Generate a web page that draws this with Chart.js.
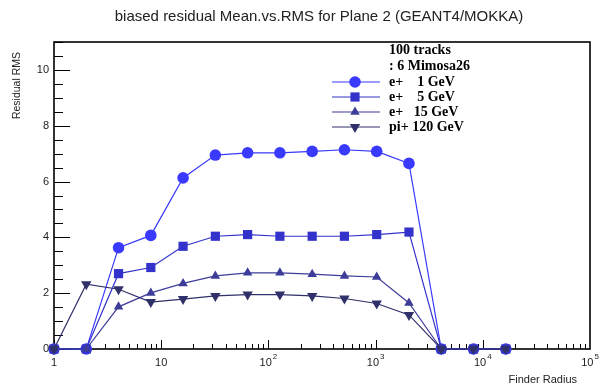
<!DOCTYPE html>
<html>
<head>
<meta charset="utf-8">
<script src="https://cdn.jsdelivr.net/npm/chart.js"></script>
<style>
  html, body { margin: 0; padding: 0; background: #fff; }
  #wrap { width: 599px; height: 387px; }
</style>
</head>
<body>
<div id="wrap"><canvas id="chart" width="599" height="387"></canvas></div>
<script>
// finder radius values (powers of two)
const radius = [1, 2, 4, 8, 16, 32, 64, 128, 256, 512, 1024, 2048, 4096, 8192, 16384];

// residual RMS per beam setting
const ePlus1GeV  = [0, 0, 3.63, 4.07, 6.13, 6.95, 7.03, 7.03, 7.08, 7.14, 7.08, 6.65, 0, 0, 0];
const ePlus5GeV  = [0, 0, 2.70, 2.92, 3.68, 4.04, 4.10, 4.04, 4.04, 4.04, 4.10, 4.19, 0, 0, 0];
const ePlus15GeV = [0, 0, 1.51, 2.01, 2.35, 2.62, 2.73, 2.73, 2.68, 2.62, 2.58, 1.65, 0, 0, 0];
const piPlus120GeV = [0, 2.32, 2.14, 1.68, 1.79, 1.90, 1.95, 1.95, 1.90, 1.81, 1.63, 1.22, 0, 0, 0];

const seriesNames = ['e+    1 GeV', 'e+    5 GeV', 'e+   15 GeV', 'pi+ 120 GeV'];
const legendHeader = ['100 tracks', ': 6 Mimosa26'];

const yTicks = [0, 2, 4, 6, 8, 10];
const xDecades = [1, 10, 100, 1000, 10000, 100000];
const xTickLabels = [['1', ''], ['10', ''], ['10', '2'], ['10', '3'], ['10', '4'], ['10', '5']];

const colors = ['#3a3aff', '#3333cc', '#3d3d99', '#30306a'];
const styles = [
  { pointStyle: 'circle', radius: 5.8, rotation: 0 },
  { pointStyle: 'rect', radius: 6.5, rotation: 0 },
  { pointStyle: 'triangle', radius: 5.5, rotation: 0 },
  { pointStyle: 'triangle', radius: 6, rotation: 180 }
];

function toXY(ys) {
  return radius.map((r, i) => ({ x: r, y: ys[i] }));
}

const allSeries = [ePlus1GeV, ePlus5GeV, ePlus15GeV, piPlus120GeV];
const datasets = allSeries.map((ys, i) => ({
  label: seriesNames[i],
  data: toXY(ys),
  borderColor: colors[i],
  backgroundColor: colors[i],
  borderWidth: 1.2,
  pointStyle: styles[i].pointStyle,
  pointRadius: styles[i].radius,
  pointRotation: styles[i].rotation,
  pointBorderWidth: 0,
  tension: 0,
  clip: false,
  order: 3 - i
}));

function marker(ctx, st, x, y, color) {
  ctx.save();
  ctx.fillStyle = color;
  ctx.strokeStyle = color;
  ctx.lineWidth = 0;
  if (Chart.helpers && Chart.helpers.drawPoint) {
    Chart.helpers.drawPoint(ctx, { pointStyle: st.pointStyle, rotation: st.rotation, radius: st.radius, borderWidth: 0 }, x, y);
  } else {
    ctx.beginPath();
    ctx.arc(x, y, st.radius, 0, Math.PI * 2);
    ctx.fill();
  }
  ctx.restore();
}

const rootFrame = {
  id: 'rootFrame',
  beforeDatasetsDraw(chart) {
    const { ctx, chartArea: a, scales } = chart;
    const xs = scales.x, ys = scales.y;
    ctx.save();
    ctx.strokeStyle = '#000';
    ctx.lineWidth = 1;
    ctx.beginPath();
    // y ticks: majors every 2, minors every 0.5
    for (let v = 0; v <= 11.001; v += 0.5) {
      const py = Math.round(ys.getPixelForValue(v)) + 0.5;
      const len = (Math.abs(v % 2) < 1e-6) ? 16 : 9;
      ctx.moveTo(a.left, py);
      ctx.lineTo(a.left + len, py);
    }
    // x ticks on log axis
    for (let d = 1; d < 100000; d *= 10) {
      for (let k = 1; k <= 9; k++) {
        const px = Math.round(xs.getPixelForValue(d * k)) + 0.5;
        const len = k === 1 ? 9 : 5;
        ctx.moveTo(px, a.bottom);
        ctx.lineTo(px, a.bottom - len);
      }
    }
    ctx.stroke();
    // frame
    ctx.lineWidth = 1.6;
    ctx.strokeRect(a.left, a.top, a.right - a.left, a.bottom - a.top);
    ctx.restore();
  },
  afterDraw(chart) {
    const { ctx, chartArea: a, scales } = chart;
    const xs = scales.x, ys = scales.y;
    ctx.save();
    ctx.fillStyle = '#222';

    // title
    ctx.font = '15px "Liberation Sans", Arial, sans-serif';
    ctx.textAlign = 'center';
    ctx.textBaseline = 'middle';
    ctx.fillText('biased residual Mean.vs.RMS for Plane 2 (GEANT4/MOKKA)', 319, 17);

    // y tick labels
    ctx.font = '11px "Liberation Sans", Arial, sans-serif';
    ctx.textAlign = 'right';
    yTicks.forEach(v => ctx.fillText(String(v), 49, ys.getPixelForValue(v)));

    // x tick labels with superscript exponents
    xDecades.forEach((d, i) => {
      const px = xs.getPixelForValue(d);
      const [base, exp] = xTickLabels[i];
      ctx.font = '11px "Liberation Sans", Arial, sans-serif';
      const wb = ctx.measureText(base).width;
      ctx.font = '8px "Liberation Sans", Arial, sans-serif';
      const we = exp ? ctx.measureText(exp).width + 1 : 0;
      const start = px - (wb + we) / 2;
      ctx.textAlign = 'left';
      ctx.font = '11px "Liberation Sans", Arial, sans-serif';
      ctx.fillText(base, start, 363);
      if (exp) {
        ctx.font = '8px "Liberation Sans", Arial, sans-serif';
        ctx.fillText(exp, start + wb + 1, 357);
      }
    });

    // axis titles
    ctx.font = '11px "Liberation Sans", Arial, sans-serif';
    ctx.textAlign = 'right';
    ctx.fillText('Finder Radius', 577, 380);

    ctx.save();
    ctx.translate(17, 52);
    ctx.rotate(-Math.PI / 2);
    ctx.font = '10.5px "Liberation Sans", Arial, sans-serif';
    ctx.textAlign = 'right';
    ctx.fillText('Residual RMS', 0, 0);
    ctx.restore();

    // legend
    ctx.fillStyle = '#000';
    ctx.font = 'bold 14px "Liberation Serif", "Times New Roman", serif';
    ctx.textAlign = 'left';
    ctx.fillText(legendHeader[0], 389, 50);
    ctx.fillText(legendHeader[1], 389, 66);
    const rows = [82, 97, 112, 127];
    seriesNames.forEach((name, i) => {
      const y = rows[i];
      ctx.strokeStyle = colors[i];
      ctx.lineWidth = 1.2;
      ctx.beginPath();
      ctx.moveTo(332, y);
      ctx.lineTo(380, y);
      ctx.stroke();
      marker(ctx, styles[i], 355, y, colors[i]);
      ctx.fillStyle = '#000';
      ctx.fillText(name, 389, y);
    });
    ctx.restore();
  }
};

new Chart(document.getElementById('chart'), {
  type: 'line',
  data: { datasets },
  options: {
    responsive: false,
    animation: false,
    layout: { padding: { left: 54, right: 9, top: 42, bottom: 38 } },
    plugins: { legend: { display: false }, title: { display: false }, tooltip: { enabled: false } },
    scales: {
      x: { type: 'logarithmic', min: 1, max: 100000, display: false },
      y: { type: 'linear', min: 0, max: 11, display: false }
    }
  },
  plugins: [rootFrame]
});
</script>
</body>
</html>
